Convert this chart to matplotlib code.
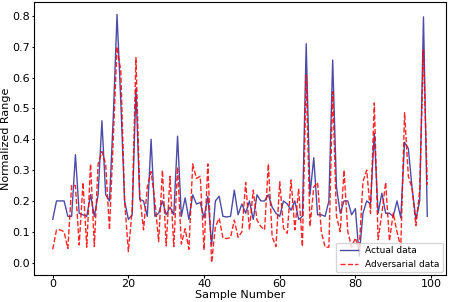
import numpy as np
import matplotlib
matplotlib.use('Agg')
import matplotlib.pyplot as plt

# values, samples 0..99
actual = [0.14, 0.20, 0.20, 0.20, 0.15, 0.15, 0.35, 0.16, 0.155, 0.15,
          0.22, 0.15, 0.22, 0.46, 0.22, 0.20, 0.47, 0.805, 0.52, 0.20,
          0.14, 0.155, 0.565, 0.205, 0.20, 0.15, 0.40, 0.15, 0.16, 0.20,
          0.155, 0.18, 0.155, 0.41, 0.15, 0.21, 0.14, 0.22, 0.19, 0.195,
          0.145, 0.215, 0.057, 0.20, 0.215, 0.15, 0.148, 0.15, 0.235, 0.155,
          0.19, 0.16, 0.20, 0.14, 0.22, 0.20, 0.20, 0.22, 0.18, 0.16,
          0.15, 0.20, 0.19, 0.17, 0.20, 0.14, 0.15, 0.71, 0.22, 0.34,
          0.155, 0.155, 0.15, 0.20, 0.657, 0.245, 0.16, 0.20, 0.20, 0.155,
          0.175, 0.02, 0.16, 0.20, 0.19, 0.42, 0.16, 0.225, 0.16, 0.16,
          0.15, 0.20, 0.145, 0.39, 0.37, 0.24, 0.14, 0.20, 0.797, 0.15]

adversarial = [0.043, 0.106, 0.106, 0.10, 0.046, 0.25, 0.25, 0.057, 0.26, 0.05,
               0.32, 0.052, 0.32, 0.36, 0.32, 0.106, 0.40, 0.70, 0.62, 0.20,
               0.036, 0.17, 0.665, 0.22, 0.106, 0.245, 0.295, 0.20, 0.068, 0.30,
               0.054, 0.28, 0.052, 0.31, 0.06, 0.11, 0.043, 0.32, 0.273, 0.28,
               0.041, 0.32, 0.0, 0.117, 0.144, 0.079, 0.078, 0.081, 0.138, 0.082,
               0.10, 0.26, 0.106, 0.235, 0.138, 0.117, 0.106, 0.32, 0.084, 0.052,
               0.262, 0.111, 0.095, 0.268, 0.106, 0.24, 0.052, 0.608, 0.117, 0.245,
               0.26, 0.10, 0.05, 0.05, 0.554, 0.15, 0.10, 0.30, 0.10, 0.05,
               0.08, 0.04, 0.262, 0.30, 0.16, 0.518, 0.074, 0.16, 0.26, 0.07,
               0.16, 0.10, 0.05, 0.486, 0.28, 0.24, 0.12, 0.235, 0.69, 0.252]

samples = np.arange(len(actual))

fig = plt.figure(figsize=(4.49, 3.02), dpi=100)
ax = fig.add_axes([0.0757, 0.0894, 0.9176, 0.904])

ax.plot(samples, actual, color='navy', alpha=0.7, linewidth=1.0, label='Actual data')
ax.plot(samples, adversarial, color='red', alpha=0.85, linewidth=1.0, linestyle='--',
        label='Adversarial data')

ax.set_xlabel('Sample Number', fontsize=8, labelpad=1)
ax.set_ylabel('Normalized Range', fontsize=8, labelpad=1)
ax.tick_params(labelsize=8, length=1.8, pad=1)
ax.legend(loc='lower right', fontsize=6.5, borderaxespad=0.3)

fig.savefig('out.png', dpi=100)
